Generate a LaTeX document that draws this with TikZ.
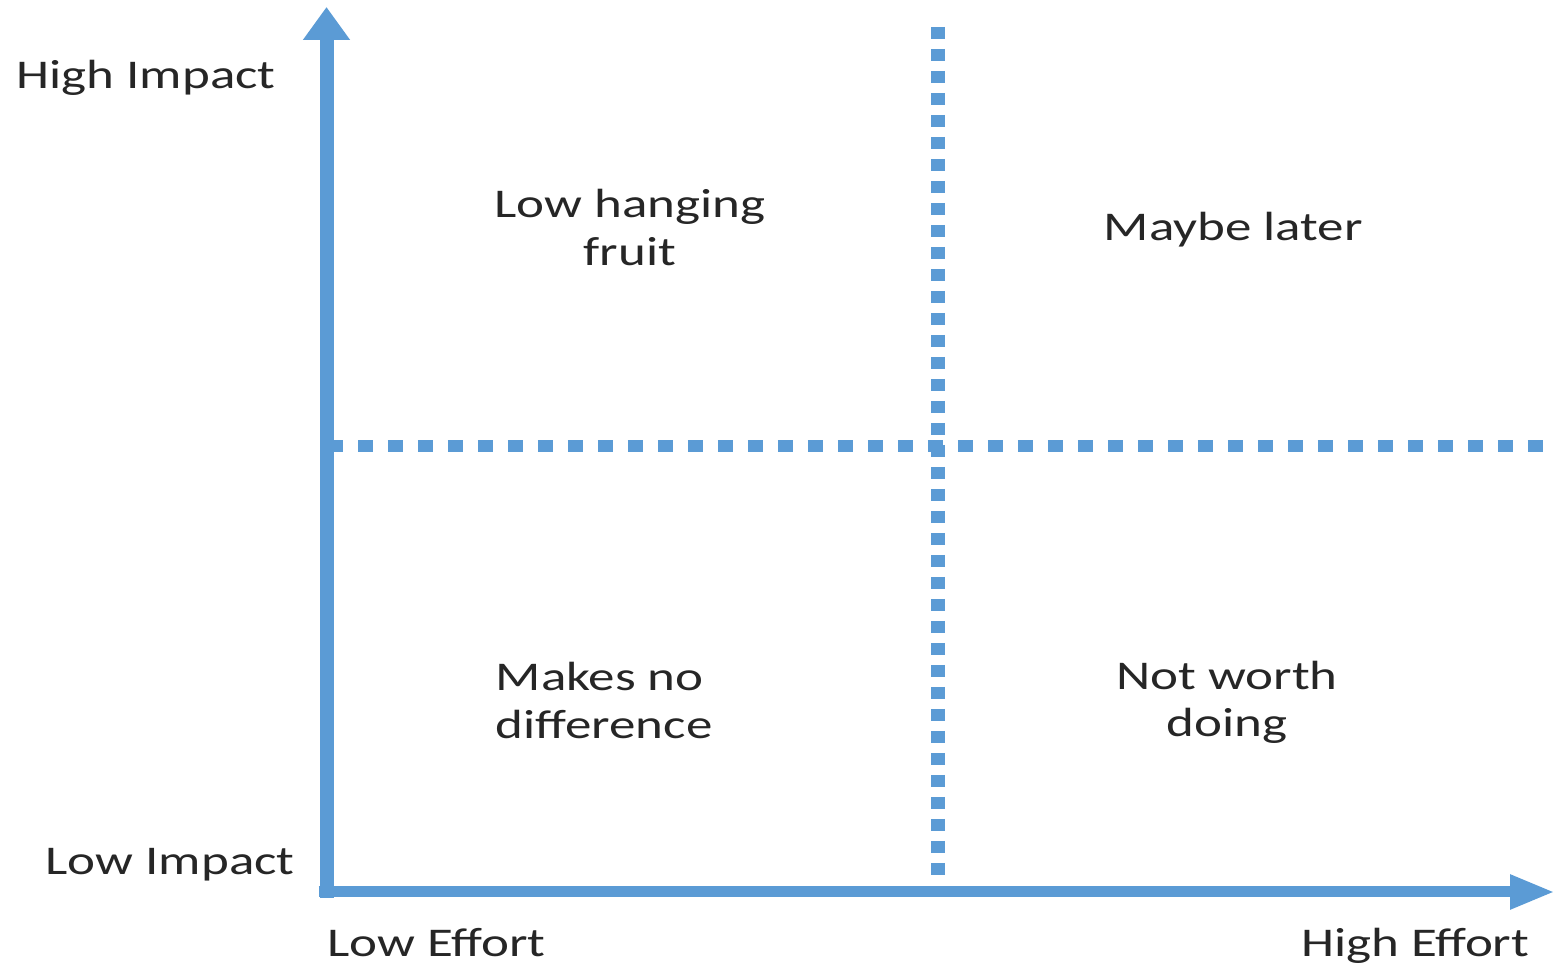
\documentclass[tikz,border=0pt]{standalone}
\usepackage{graphicx}
\usepackage{fontspec}
\setmainfont{Carlito}
\usepackage{tikz}
\usetikzlibrary{arrows.meta, positioning}
\definecolor{axisblue}{HTML}{5B9BD5}
\definecolor{labelgray}{HTML}{262626}
% 横に伸ばした文字
\newcommand{\wide}[1]{\scalebox{1.3}[1]{#1}}

\begin{document}
\begin{tikzpicture}[
    label/.style={text=labelgray, inner sep=0pt, font=\fontsize{11.6}{13.4}\selectfont},
    divider/.style={axisblue},
]
    \useasboundingbox (0,0) rectangle (15.58,9.64);

    % 軸の端点
    \coordinate (origin) at (3.265,0.72);
    \coordinate (ytip) at (3.265,9.57);
    \coordinate (xtip) at (15.55,0.72);

    % 区切り線（点線）
    \coordinate (vtop) at (9.38,9.37);
    \coordinate (vbot) at (9.38,0.80);
    \coordinate (hleft) at (3.28,5.18);
    \coordinate (hright) at (15.44,5.18);
    \draw[divider, line width=0.14cm, dash pattern=on 0.12cm off 0.10cm] (vtop) -- (vbot);
    \draw[divider, line width=0.12cm, dash pattern=on 0.15cm off 0.15cm] (hleft) -- (hright);

    % 軸
    \draw[axisblue, line width=0.14cm, -{Triangle[length=0.33cm, width=0.45cm]}]
        ([yshift=-0.06cm]origin) -- (ytip);
    \draw[axisblue, line width=0.11cm, -{Triangle[length=0.45cm, width=0.32cm]}]
        ([xshift=-0.08cm]origin) -- (xtip);

    % 軸ラベル
    \node[label, anchor=base west] (highimpact) at (0.16,8.75) {\wide{High Impact}};
    \node[label, anchor=base west] (lowimpact) at (0.45,0.89) {\wide{Low Impact}};
    \node[label, anchor=base west] (loweffort) at (3.27,0.07) {\wide{Low Effort}};
    \node[label, anchor=base east] (higheffort) at (15.30,0.07) {\wide{High Effort}};

    % 象限ラベル
    \node[label, align=center] (lowhanging) at (6.30,7.365) {\wide{Low hanging}\\\wide{fruit}};
    \node[label, anchor=base west] (maybelater) at (11.03,7.23) {\wide{Maybe later}};
    \node[label, align=left, anchor=west] (nodifference) at (4.95,2.635) {\wide{Makes no}\\\wide{difference}};
    \node[label, align=center] (notworth) at (12.27,2.615) {\wide{Not worth}\\\wide{doing}};
\end{tikzpicture}
\end{document}
